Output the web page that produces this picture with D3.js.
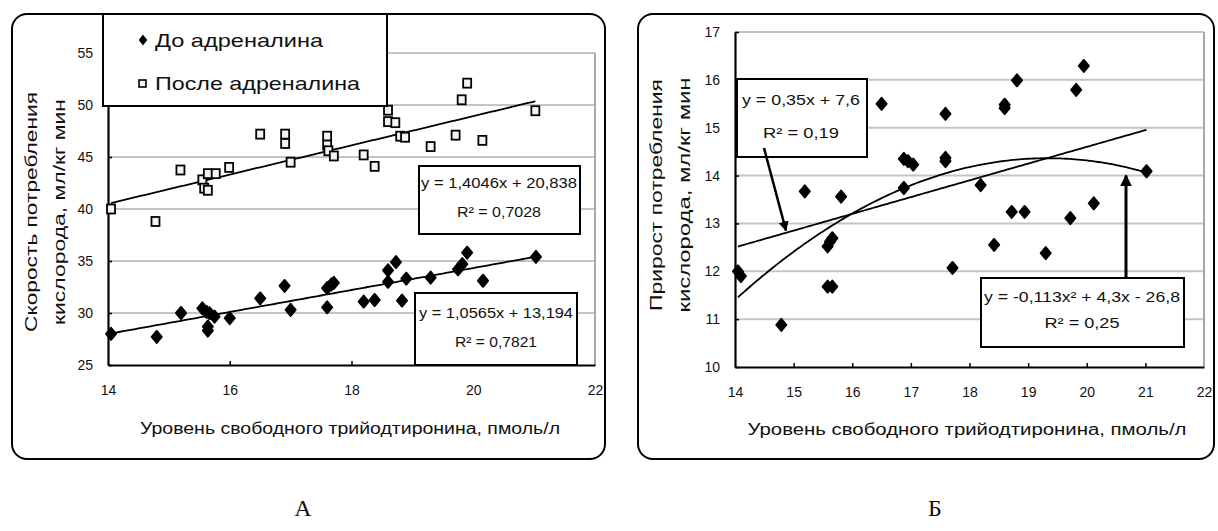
<!DOCTYPE html>
<html>
<head>
<meta charset="utf-8">
<script src="https://cdn.jsdelivr.net/npm/d3@7"></script>
<style>
  body { margin: 0; background: #fff; }
  text { font-family: "Liberation Sans", Arial, sans-serif; fill: #111; }
</style>
</head>
<body>
<div id="chart"></div>
<script>
// Panel A: oxygen consumption rate before / after adrenaline vs free T3
const beforeX = [14.05, 14.8, 15.2, 15.55, 15.62, 15.67, 15.75, 15.64, 15.64, 16.0, 16.5, 16.9, 17.0, 17.6, 17.6, 17.67, 17.71, 18.2, 18.38, 18.6, 18.6, 18.73, 18.83, 18.9, 19.3, 19.75, 19.82, 19.9, 20.16, 21.03];
const beforeY = [28.0, 27.7, 30.0, 30.45, 30.1, 29.97, 29.65, 28.7, 28.3, 29.5, 31.4, 32.6, 30.3, 30.55, 32.4, 32.75, 32.9, 31.1, 31.25, 33.0, 34.1, 34.9, 31.2, 33.3, 33.4, 34.2, 34.7, 35.8, 33.1, 35.4];
const afterX = [14.05, 14.78, 15.19, 15.55, 15.58, 15.64, 15.64, 15.77, 15.99, 16.5, 16.91, 16.91, 17.0, 17.6, 17.6, 17.62, 17.71, 18.2, 18.38, 18.6, 18.6, 18.72, 18.8, 18.88, 19.3, 19.71, 19.81, 19.9, 20.15, 21.02];
const afterY = [40.0, 38.8, 43.75, 42.8, 42.0, 41.8, 43.4, 43.4, 44.0, 47.2, 47.2, 46.3, 44.5, 47.0, 46.15, 45.6, 45.1, 45.2, 44.1, 49.5, 48.4, 48.3, 47.0, 46.9, 46.0, 47.1, 50.5, 52.1, 46.6, 49.45];

// Panel B: oxygen consumption increase vs free T3
const growthX = [14.05, 14.1, 14.79, 15.19, 15.58, 15.62, 15.66, 15.58, 15.66, 15.81, 16.5, 16.88, 16.95, 17.04, 16.88, 17.59, 17.59, 17.59, 17.71, 18.19, 18.42, 18.6, 18.6, 18.72, 18.81, 18.94, 19.3, 19.72, 19.82, 19.95, 20.12, 21.02];
const growthY = [12.0, 11.9, 10.88, 13.67, 12.52, 12.62, 12.69, 11.68, 11.68, 13.56, 15.5, 14.35, 14.3, 14.23, 13.74, 15.29, 14.37, 14.3, 12.07, 13.8, 12.55, 15.48, 15.41, 13.24, 15.99, 13.24, 12.38, 13.11, 15.79, 16.29, 13.42, 14.09];

// linear trend coefficients as printed on the chart [intercept, slope]
const trendBefore = [13.194, 1.0565];
const trendAfter = [20.838, 1.4046];
const trendLinB = [7.6, 0.35];

const xTicksA = [14, 16, 18, 20, 22];
const yTicksA = [25, 30, 35, 40, 45, 50, 55];
const xTicksB = [14, 15, 16, 17, 18, 19, 20, 21, 22];
const yTicksB = [10, 11, 12, 13, 14, 15, 16, 17];

const legendLabels = ["До адреналина", "После адреналина"];
const eqBefore = ["y = 1,0565x + 13,194", "R² = 0,7821"];
const eqAfter = ["y = 1,4046x + 20,838", "R² = 0,7028"];
const eqLinB = ["y = 0,35x + 7,6", "R² = 0,19"];
const eqPolyB = ["y = -0,113x² + 4,3x - 26,8", "R² = 0,25"];
const xTitle = "Уровень свободного трийодтиронина, пмоль/л";

const width = 1218, height = 531;

const svg = d3.select("#chart").append("svg")
    .attr("width", width)
    .attr("height", height);

// least squares polynomial fit, like the spreadsheet trend line
function polyfit(xs, ys, deg) {
    const n = deg + 1;
    const A = [];
    for (let i = 0; i < n; i++) {
        A.push([]);
        for (let j = 0; j < n; j++) A[i].push(d3.sum(xs, x => Math.pow(x, i + j)));
        A[i].push(d3.sum(xs, (x, k) => Math.pow(x, i) * ys[k]));
    }
    for (let i = 0; i < n; i++) {
        for (let r = i + 1; r < n; r++) {
            const f = A[r][i] / A[i][i];
            for (let c = i; c <= n; c++) A[r][c] -= f * A[i][c];
        }
    }
    const coef = new Array(n).fill(0);
    for (let i = n - 1; i >= 0; i--) {
        let s = A[i][n];
        for (let j = i + 1; j < n; j++) s -= A[i][j] * coef[j];
        coef[i] = s / A[i][i];
    }
    return coef;
}

function trendPoints(xs, coef) {
    const f = x => d3.sum(coef, (c, i) => c * Math.pow(x, i));
    const [lo, hi] = d3.extent(xs);
    const pts = d3.range(lo, hi, 0.05).map(x => [x, f(x)]);
    pts.push([hi, f(hi)]);
    return pts;
}

function diamond(g, x, y, xs, ys) {
    g.selectAll(null)
        .data(xs.map((v, i) => [v, ys[i]]))
        .join("path")
        .attr("d", "M0,-6L5,0L0,6L-5,0Z")
        .attr("transform", d => `translate(${x(d[0])},${y(d[1])})`)
        .attr("fill", "#000")
        .attr("stroke", "#000")
        .attr("stroke-width", 2)
        .attr("stroke-linejoin", "round");
}

function drawFrame(x0, w) {
    svg.append("rect")
        .attr("x", x0).attr("y", 14)
        .attr("width", w).attr("height", 445)
        .attr("rx", 15)
        .attr("fill", "none")
        .attr("stroke", "#000")
        .attr("stroke-width", 2);
}

function drawGrid(x, y, yTicks) {
    const [x0, x1] = x.range();
    svg.append("g").selectAll("line")
        .data(yTicks.slice(1))
        .join("line")
        .attr("x1", x0).attr("x2", x1)
        .attr("y1", d => y(d)).attr("y2", d => y(d))
        .attr("stroke", "#c4c4c4")
        .attr("stroke-width", 2);
    svg.append("line")
        .attr("x1", x1).attr("x2", x1)
        .attr("y1", y.range()[1]).attr("y2", y.range()[0])
        .attr("stroke", "#a8a8a8")
        .attr("stroke-width", 2);
}

function drawAxes(x, y, xTicks, yTicks) {
    const xa = svg.append("g")
        .attr("transform", `translate(0,${y.range()[0]})`)
        .call(d3.axisBottom(x).tickValues(xTicks).tickFormat(d3.format("d"))
            .tickSize(-4).tickPadding(20).tickSizeOuter(0));
    const ya = svg.append("g")
        .attr("transform", `translate(${x.range()[0]},0)`)
        .call(d3.axisLeft(y).tickValues(yTicks).tickFormat(d3.format("d"))
            .tickSize(-4).tickPadding(15).tickSizeOuter(0));
    [xa, ya].forEach(a => {
        a.attr("font-family", null).attr("font-size", 14);
        a.selectAll(".domain").attr("stroke", "#000").attr("stroke-width", 2.2);
        a.selectAll(".tick line").attr("stroke", "#000").attr("stroke-width", 1.5);
        a.selectAll(".tick text").attr("fill", "#111");
    });
    xa.selectAll(".tick line").filter(d => d === xTicks[0] || d === xTicks[xTicks.length - 1]).remove();
}

function eqBox(x0, y0, w, h, lines, baselines, cx, lens) {
    svg.append("rect")
        .attr("x", x0).attr("y", y0)
        .attr("width", w).attr("height", h)
        .attr("fill", "#fff")
        .attr("stroke", "#000")
        .attr("stroke-width", 2);
    lines.forEach((t, i) => {
        svg.append("text")
            .attr("x", cx).attr("y", baselines[i])
            .attr("text-anchor", "middle")
            .attr("font-size", 14)
            .attr("textLength", lens[i])
            .attr("lengthAdjust", "spacingAndGlyphs")
            .text(t);
    });
}

function yTitle(lines, xs, cy, lens) {
    lines.forEach((t, i) => {
        svg.append("text")
            .attr("transform", `translate(${xs[i]},${cy}) rotate(-90)`)
            .attr("text-anchor", "middle")
            .attr("font-size", 16)
            .attr("textLength", lens[i])
            .attr("lengthAdjust", "spacingAndGlyphs")
            .text(t);
    });
}

function trendPath(lineGen, pts) {
    svg.append("path")
        .attr("d", lineGen(pts))
        .attr("fill", "none")
        .attr("stroke", "#000")
        .attr("stroke-width", 1.8);
}

// ---------- Panel A ----------
const xA = d3.scaleLinear().domain([14, 22]).range([108, 595]);
const yA = d3.scaleLinear().domain([25, 55]).range([365, 53]);

drawFrame(12, 593);
drawGrid(xA, yA, yTicksA);
drawAxes(xA, yA, xTicksA, yTicksA);

const lineA = d3.line().x(d => xA(d[0])).y(d => yA(d[1]));
trendPath(lineA, trendPoints(afterX, trendAfter));
trendPath(lineA, trendPoints(beforeX, trendBefore));

const gA = svg.append("g");
diamond(gA, xA, yA, beforeX, beforeY);
gA.selectAll("rect")
    .data(afterX.map((v, i) => [v, afterY[i]]))
    .join("rect")
    .attr("x", d => xA(d[0]) - 4)
    .attr("y", d => yA(d[1]) - 4.5)
    .attr("width", 8).attr("height", 9)
    .attr("fill", "#f4f4f4")
    .attr("stroke", "#000")
    .attr("stroke-width", 1.8);

eqBox(419, 166, 161, 68, eqAfter, [188, 217], 499, [156, 84]);
eqBox(415, 293, 162, 72, eqBefore, [318, 347], 496, [154, 82]);

// legend
svg.append("rect")
    .attr("x", 103).attr("y", 14)
    .attr("width", 284).attr("height", 92)
    .attr("fill", "#fff")
    .attr("stroke", "#000")
    .attr("stroke-width", 2);
svg.append("path")
    .attr("d", "M0,-4.5L3.5,0L0,4.5L-3.5,0Z")
    .attr("transform", "translate(143,40)")
    .attr("fill", "#000").attr("stroke", "#000").attr("stroke-width", 1.2);
svg.append("rect")
    .attr("x", 139).attr("y", 80).attr("width", 7).attr("height", 7)
    .attr("fill", "#f4f4f4").attr("stroke", "#000").attr("stroke-width", 1.6);
legendLabels.forEach((t, i) => {
    svg.append("text")
        .attr("x", 155).attr("y", [47, 90][i])
        .attr("font-size", 19)
        .attr("textLength", [168, 205][i])
        .attr("lengthAdjust", "spacingAndGlyphs")
        .text(t);
});

yTitle(["Скорость потребления", "кислорода, мл/кг мин"], [37, 65], 212, [240, 226]);
svg.append("text")
    .attr("x", 350).attr("y", 434)
    .attr("text-anchor", "middle")
    .attr("font-size", 16)
    .attr("textLength", 420)
    .attr("lengthAdjust", "spacingAndGlyphs")
    .text(xTitle);

// ---------- Panel B ----------
const xB = d3.scaleLinear().domain([14, 22]).range([735, 1204]);
const yB = d3.scaleLinear().domain([10, 17]).range([367, 32]);

drawFrame(638, 576);
drawGrid(xB, yB, yTicksB);
drawAxes(xB, yB, xTicksB, yTicksB);

const lineB = d3.line().x(d => xB(d[0])).y(d => yB(d[1]));
trendPath(lineB, trendPoints(growthX, trendLinB));
trendPath(lineB, trendPoints(growthX, polyfit(growthX, growthY, 2)));

diamond(svg.append("g"), xB, yB, growthX, growthY);

// arrows from the equation boxes to the trend lines
svg.append("defs").append("marker")
    .attr("id", "arrow")
    .attr("viewBox", "0 0 10 10")
    .attr("refX", 9).attr("refY", 5)
    .attr("markerWidth", 4).attr("markerHeight", 5)
    .attr("orient", "auto")
    .append("path")
    .attr("d", "M0,0L10,5L0,10Z")
    .attr("fill", "#000");

eqBox(737, 79, 130, 78, eqLinB, [105, 138], 801, [118, 76]);
eqBox(981, 278, 203, 69, eqPolyB, [302, 328], 1082, [196, 75]);

svg.append("line")
    .attr("x1", 764).attr("y1", 148)
    .attr("x2", xB(14.87)).attr("y2", yB(12.85))
    .attr("stroke", "#000").attr("stroke-width", 2.5)
    .attr("marker-end", "url(#arrow)");
svg.append("line")
    .attr("x1", 1126).attr("y1", 279)
    .attr("x2", xB(20.67)).attr("y2", yB(14.0))
    .attr("stroke", "#000").attr("stroke-width", 3)
    .attr("marker-end", "url(#arrow)");

yTitle(["Прирост потребления", "кислорода, мл/кг мин"], [662, 690], 195, [232, 235]);
svg.append("text")
    .attr("x", 967).attr("y", 435)
    .attr("text-anchor", "middle")
    .attr("font-size", 16)
    .attr("textLength", 439)
    .attr("lengthAdjust", "spacingAndGlyphs")
    .text(xTitle);

// panel letters
[["А", 303], ["Б", 935]].forEach(([t, x]) => {
    svg.append("text")
        .attr("x", x).attr("y", 516)
        .attr("text-anchor", "middle")
        .attr("font-size", 24)
        .style("font-family", "'Liberation Serif', 'DejaVu Serif', serif")
        .text(t);
});
</script>
</body>
</html>
